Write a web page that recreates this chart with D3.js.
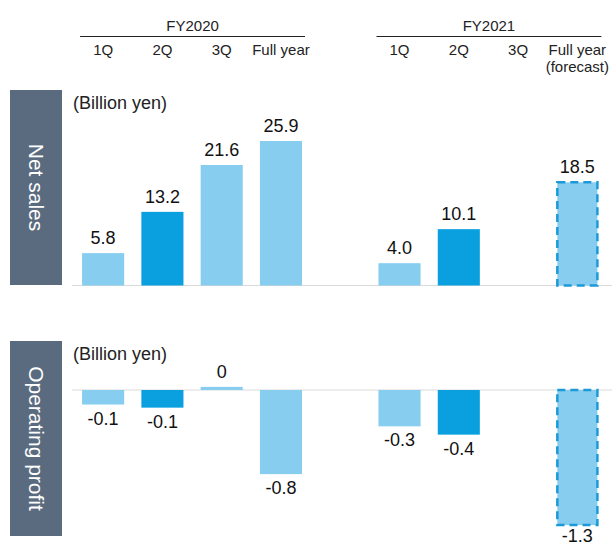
<!DOCTYPE html>
<html><head><meta charset="utf-8">
<script src="https://cdn.jsdelivr.net/npm/d3@7"></script>
<style>body{margin:0;background:#fff}svg{display:block;font-family:"Liberation Sans",Arial,sans-serif}</style>
</head><body><svg id="c" width="612" height="546"></svg>
<script>
const slots = ["2020-1Q","2020-2Q","2020-3Q","2020-FY","gap","2021-1Q","2021-2Q","2021-3Q","2021-FY"];
const quarterLabels = ["1Q","2Q","3Q","Full year","","1Q","2Q","3Q","Full year"];
const years = [{name:"FY2020", from:"2020-1Q", to:"2020-FY"},{name:"FY2021", from:"2021-1Q", to:"2021-FY"}];
const salesKeys = ["2020-1Q","2020-2Q","2020-3Q","2020-FY","2021-1Q","2021-2Q","2021-FY"];
const salesValues = [5.8, 13.2, 21.6, 25.9, 4.0, 10.1, 18.5];
const salesLabels = ["5.8","13.2","21.6","25.9","4.0","10.1","18.5"];
const profitKeys = ["2020-1Q","2020-2Q","2020-3Q","2020-FY","2021-1Q","2021-2Q","2021-FY"];
const profitValues = [-0.14, -0.17, 0.03, -0.81, -0.35, -0.43, -1.3];
const profitLabels = ["-0.1","-0.1","0","-0.8","-0.3","-0.4","-1.3"];
const kinds = {"2020-1Q":"light","2020-2Q":"dark","2020-3Q":"light","2020-FY":"light","2021-1Q":"light","2021-2Q":"dark","2021-FY":"forecast"};

const LIGHT="#86cdf0", DARK="#0aa0e0", STROKE="#1c9ad8", BOX="#5b6b7f";
const svg = d3.select("#c");
const x = d3.scaleBand().domain(slots).range([73.5, 607]).paddingInner(0.29).paddingOuter(0.145);

// header
years.forEach(y => {
  const x0 = x(y.from) - 2, x1 = x(y.to) + x.bandwidth() + 3;
  svg.append("line").attr("x1",x0).attr("x2",x1).attr("y1",36.5).attr("y2",36.5).attr("stroke","#222").attr("stroke-width",1);
  svg.append("text").attr("x",(x0+x1)/2).attr("y",31).attr("text-anchor","middle").attr("font-size",15).attr("fill","#222").text(y.name);
});
slots.forEach((s,i) => {
  if(!quarterLabels[i]) return;
  svg.append("text").attr("x",x(s)+x.bandwidth()/2).attr("y",55).attr("text-anchor","middle").attr("font-size",15).attr("fill","#222").text(quarterLabels[i]);
});
svg.append("text").attr("x",x("2021-FY")+x.bandwidth()/2).attr("y",72).attr("text-anchor","middle").attr("font-size",15).attr("fill","#222").text("(forecast)");

function panel(title, top, bottom, keys, values, labels, yScale) {
  svg.append("rect").attr("x",10).attr("y",top).attr("width",52).attr("height",bottom-top).attr("fill",BOX);
  svg.append("text").attr("transform",`translate(36,${(top+bottom)/2}) rotate(90)`).attr("text-anchor","middle")
    .attr("dominant-baseline","central").attr("font-size",21).attr("fill","#fff").text(title);
  svg.append("text").attr("x",73).attr("y",top+19).attr("font-size",18).attr("fill","#222").text("(Billion yen)");
  const y0 = yScale(0);
  svg.append("line").attr("x1",72).attr("x2",612).attr("y1",y0).attr("y2",y0).attr("stroke","#d9d9d9").attr("stroke-width",1);
  const data = keys.map((k,i)=>({k, v:values[i], l:labels[i]}));
  const g = svg.append("g");
  g.selectAll("rect").data(data).join("rect")
    .attr("x", d => x(d.k) + (kinds[d.k]==="forecast"?1:0))
    .attr("width", d => x.bandwidth() - (kinds[d.k]==="forecast"?2:0))
    .attr("y", d => Math.min(yScale(d.v), y0))
    .attr("height", d => Math.abs(yScale(d.v) - y0))
    .attr("fill", d => kinds[d.k]==="dark"?DARK:LIGHT)
    .attr("stroke", d => kinds[d.k]==="forecast"?STROKE:"none")
    .attr("stroke-width", 2.5).attr("stroke-dasharray","8,5");
  g.selectAll("text").data(data).join("text")
    .attr("x", d => x(d.k) + x.bandwidth()/2)
    .attr("y", d => d.v >= 0 ? Math.min(yScale(d.v), y0) - 9 : Math.min(yScale(d.v) + 20, 542))
    .attr("text-anchor","middle").attr("font-size",18).attr("fill","#111").text(d => d.l);
}

const ySales = d3.scaleLinear().domain([0, 25.9]).range([285.5, 141]);
panel("Net sales", 90, 285, salesKeys, salesValues, salesLabels, ySales);
const yProfit = d3.scaleLinear().domain([-1.3, 0]).range([525, 390]);
panel("Operating profit", 341, 536, profitKeys, profitValues, profitLabels, yProfit);
</script></body></html>
